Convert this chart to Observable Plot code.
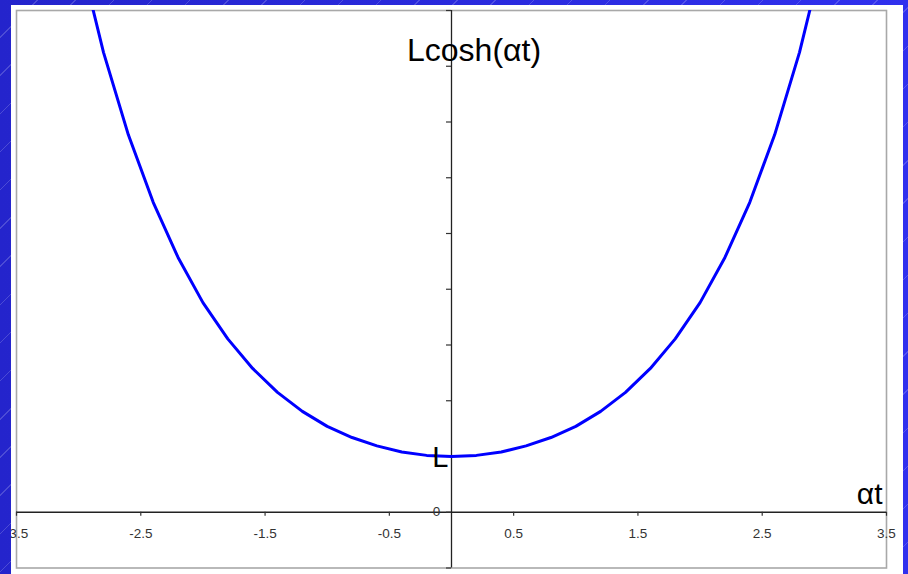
<!DOCTYPE html>
<html>
<head>
<meta charset="utf-8">
<script src="https://cdn.jsdelivr.net/npm/d3@7"></script>
<script src="https://cdn.jsdelivr.net/npm/@observablehq/plot@0.6"></script>
<style>
  html, body { margin: 0; padding: 0; }
  body {
    width: 908px; height: 574px; overflow: hidden; position: relative;
    background:
      repeating-linear-gradient(135deg, rgba(255,255,255,0) 0px, rgba(255,255,255,0) 26px, rgba(255,255,255,0.18) 26px, rgba(255,255,255,0.18) 27px),
      linear-gradient(90deg, #2424cc, #3030ee);
  }
  #sheet {
    position: absolute; left: 11px; top: 5px; width: 892px; height: 569px;
    background: #fff; overflow: hidden;
  }
  #sheet svg { position: absolute; left: -11px; top: -5px; max-width: none; width: 908px; height: 574px; }
</style>
</head>
<body>
<div id="sheet"></div>
<script>
// αt values and L·cosh(αt) in units of L
const at = [-3.0, -2.8, -2.6, -2.4, -2.2, -2.0, -1.8, -1.6, -1.4, -1.2, -1.0, -0.8, -0.6, -0.4, -0.2,
            0.0, 0.2, 0.4, 0.6, 0.8, 1.0, 1.2, 1.4, 1.6, 1.8, 2.0, 2.2, 2.4, 2.6, 2.8, 3.0];
const lcosh = [10.07, 8.25, 6.77, 5.56, 4.57, 3.76, 3.11, 2.58, 2.15, 1.81, 1.54, 1.34, 1.19, 1.08, 1.02,
               1.00, 1.02, 1.08, 1.19, 1.34, 1.54, 1.81, 2.15, 2.58, 3.11, 3.76, 4.57, 5.56, 6.77, 8.25, 10.07];
const xTicks = [-3.5, -2.5, -1.5, -0.5, 0.5, 1.5, 2.5, 3.5];
const yTicks = [-1, 0, 1, 2, 3, 4, 5, 6, 7, 8, 9];
const zeroLabel = ["0"];

const curve = at.map((x, i) => ({x, y: lcosh[i]}));
const font = "Liberation Sans, Arial, sans-serif";

const chart = Plot.plot({
  width: 908,
  height: 574,
  marginTop: 10,
  marginBottom: 6.5,
  marginLeft: 16,
  marginRight: 22,
  x: {domain: [-3.5, 3.5], axis: null},
  y: {domain: [-1, 9], axis: null},
  style: {background: "transparent", fontFamily: font, overflow: "visible"},
  marks: [
    Plot.frame({stroke: "#a8a8a8", strokeWidth: 1.6}),
    // axes through the origin
    Plot.ruleY([0], {stroke: "#222", strokeWidth: 1.3}),
    Plot.ruleX([0], {stroke: "#222", strokeWidth: 1.3}),
    Plot.ruleX(xTicks, {x: d => d, y1: 0, y2: 0, insetBottom: -4, stroke: "#333", strokeWidth: 1.2}),
    Plot.ruleY(yTicks, {y: d => d, x1: 0, x2: 0, insetLeft: -5, stroke: "#333", strokeWidth: 1.2}),
    Plot.text(xTicks, {x: d => d, y: 0, dy: 21, text: d => String(d), fill: "#333", fontSize: 13.5}),
    Plot.text(zeroLabel, {x: 0, y: 0, dx: -15, dy: -1, text: d => d, fill: "#333", fontSize: 13.5}),
    // the catenary
    Plot.line(curve, {x: "x", y: "y", stroke: "#0000ff", strokeWidth: 3, clip: true}),
    // annotations
    Plot.text(["Lcosh(αt)"], {x: 0, y: 8.28, dx: -44.5, text: d => d, textAnchor: "start", fill: "#000", fontSize: 32}),
    Plot.text(["L"], {x: 0, y: 1, dx: -3, dy: 1, text: d => d, textAnchor: "end", fill: "#000", fontSize: 29}),
    Plot.text(["αt"], {x: 3.5, y: 0, dx: -4, dy: -18, text: d => d, textAnchor: "end", fill: "#000", fontSize: 30})
  ]
});
document.getElementById("sheet").appendChild(chart);
</script>
</body>
</html>
